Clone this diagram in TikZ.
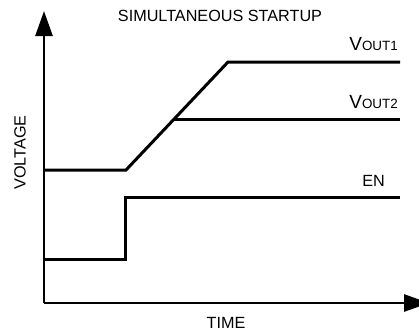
\documentclass[tikz,border=0pt]{standalone}
\usepackage{fontspec}
\setmainfont{Liberation Sans}
\usetikzlibrary{arrows.meta}
\tikzset{
  axis/.style={line width=2.7pt, -{Triangle[width=17pt,length=25pt]}},
  signal/.style={line width=3pt, line join=miter},
  lbl/.style={inner sep=0pt, font=\fontsize{16.2pt}{19pt}\selectfont},
  vlbl/.style={inner sep=0pt, font=\fontsize{19pt}{22pt}\selectfont},
}
\newcommand{\subtxt}[1]{\raisebox{-0.4pt}{\fontsize{13.4pt}{15pt}\selectfont #1}}
\begin{document}
\begin{tikzpicture}[x=1pt,y=-1pt]
\useasboundingbox (0,0) rectangle (419,330);
% axes
\coordinate (o) at (44,303);
\coordinate (ytip) at (44,11);
\coordinate (xtip) at (429,303);
\draw[axis] (o) -- (ytip);
\draw[axis] (o) -- (xtip);
% VOUT
\coordinate (v0) at (44,170);
\coordinate (v1) at (126,170);
\coordinate (v2) at (228,62);
\coordinate (v3) at (400,62);
\coordinate (w0) at (174.2,119);
\coordinate (w1) at (400,119);
\draw[signal] (v0) -- (v1) -- (v2) -- (v3);
\draw[signal] (w0) -- (w1);
% EN
\coordinate (e0) at (43,259);
\coordinate (e1) at (125,259);
\coordinate (e2) at (125,197);
\coordinate (e3) at (400,197);
\draw[signal] (e0) -- (e1) -- (e2) -- (e3);
% labels
\node[lbl, anchor=base] (title) at (220,21) {SIMULTANEOUS STARTUP};
\node[vlbl, anchor=base east] (vo1) at (398,50.5) {V\subtxt{OUT1}};
\node[vlbl, anchor=base east] (vo2) at (398,108) {V\subtxt{OUT2}};
\node[lbl, anchor=base] (en) at (373.5,186) {EN};
\node[lbl, anchor=base] (time) at (226,328) {TIME};
\node[lbl, anchor=base, rotate=90] (volt) at (25.5,152.5) {VOLTAGE};
\end{tikzpicture}
\end{document}
